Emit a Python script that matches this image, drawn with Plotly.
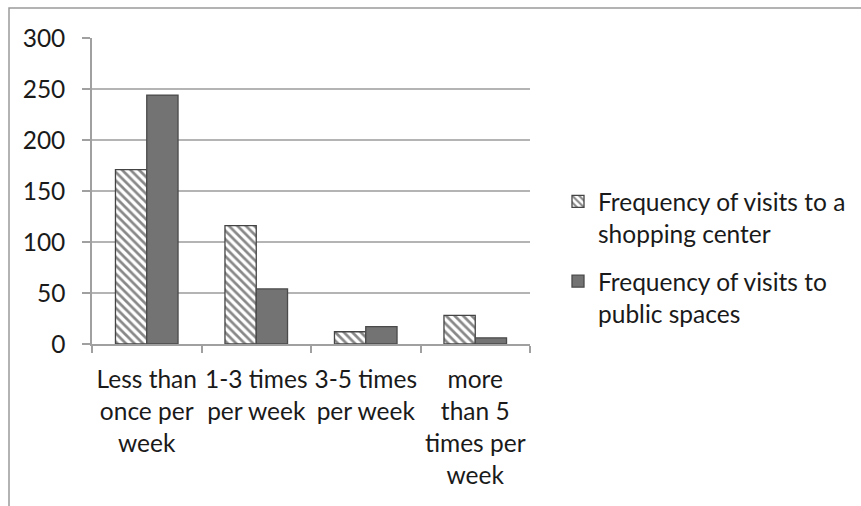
import plotly.graph_objects as go

categories = ["Less than<br>once per<br>week", "1-3 times<br>per week", "3-5 times<br>per week", "more<br>than 5<br>times per<br>week"]
shopping = [171, 116, 12, 28]
public = [244, 54, 17, 6]
series_names = ["Frequency of visits to a<br>shopping center", "Frequency of visits to<br>public spaces"]
y_ticks = [0, 50, 100, 150, 200, 250, 300]

W, H = 861, 506
FONT = "Lato"
FS = 24.5

fig = go.Figure()
fig.add_trace(go.Bar(
    x=categories, y=shopping, name=series_names[0], legendgroup="g1",
    marker=dict(color="white", line=dict(color="#444444", width=1.3),
                pattern=dict(shape="\\", fgcolor="#111111", bgcolor="white", size=6, solidity=0.45)),
))
fig.add_trace(go.Bar(
    x=categories, y=public, name=series_names[1], legendgroup="g2",
    marker=dict(color="#737373", line=dict(color="#4a4a4a", width=1.3)),
))

fig.update_layout(
    width=W, height=H,
    margin=dict(l=92, r=W - 530, t=38, b=H - 344, autoexpand=False),
    paper_bgcolor="white", plot_bgcolor="white",
    barmode="group", bargap=0.4286, bargroupgap=0,
    font=dict(family=FONT, size=FS, color="#1a1a1a"),
    showlegend=True,
    legend=dict(x=(558 - 92) / 438, xanchor="left", y=(344 - 179) / 306, yanchor="top",
                font=dict(family=FONT, size=FS, color="#1a1a1a"),
                traceorder="grouped", tracegroupgap=13, itemwidth=30, valign="top",
                bgcolor="rgba(0,0,0,0)"),
    shapes=[dict(type="rect", xref="paper", yref="paper",
                 x0=(9 - 92) / 438, x1=(880 - 92) / 438,
                 y0=(344 - 520) / 306, y1=(344 - 8) / 306,
                 line=dict(color="#9a9a9a", width=1.5), fillcolor="rgba(0,0,0,0)", layer="below")],
)
fig.update_xaxes(
    showline=True, linecolor="#a0a0a0", linewidth=1.5, automargin=False, tickangle=0,
    ticks="outside", tickson="boundaries", ticklen=7, tickcolor="#a0a0a0", tickwidth=1.5,
    showgrid=False, tickfont=dict(family=FONT, size=FS), ticklabelstandoff=13,
)
fig.update_yaxes(
    range=[0, 300], tickvals=y_ticks, showline=True, linecolor="#a0a0a0", linewidth=1.5, automargin=False,
    ticks="outside", ticklen=8, tickcolor="#a0a0a0", tickwidth=1.5,
    showgrid=True, gridcolor="#b4b4b4", gridwidth=1.5, zeroline=False,
    tickfont=dict(family=FONT, size=FS), ticklabelstandoff=12,
)

fig.write_html("out.html")
